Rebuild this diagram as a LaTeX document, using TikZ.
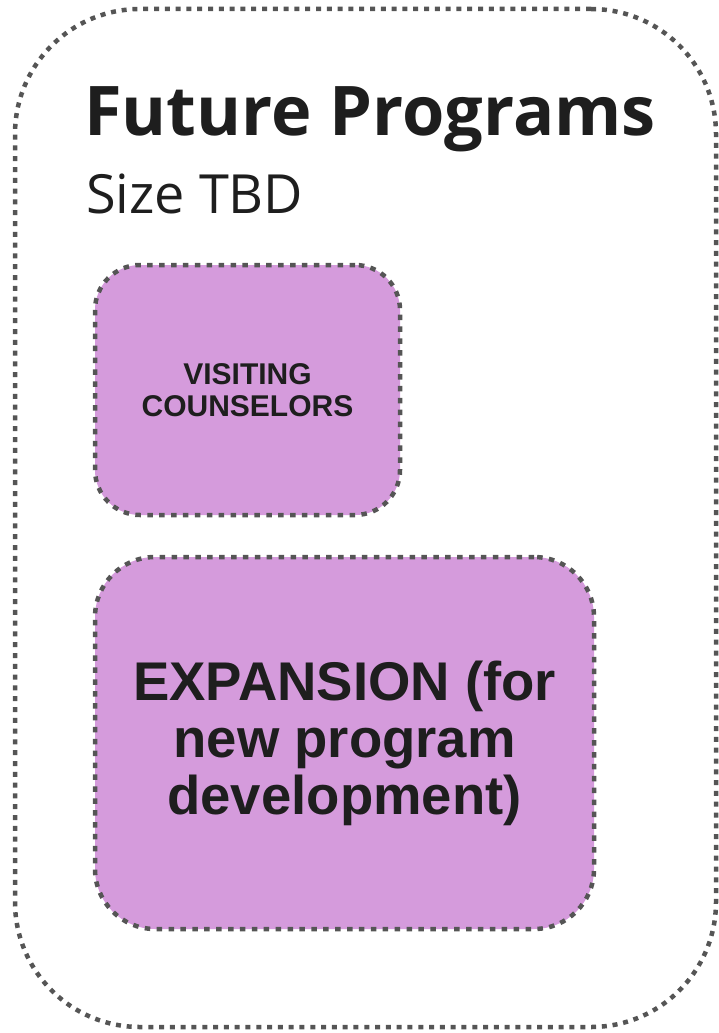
\documentclass[tikz,border=0pt]{standalone}
\usepackage{fontspec}
\newfontfamily\headfont{Open Sans}
\newfontfamily\labelfont{Liberation Sans}
\usepackage{tikz}
\definecolor{progfill}{HTML}{D59BDC}
\definecolor{dotgray}{HTML}{555555}
\definecolor{inkblack}{HTML}{1E1E1E}

\begin{document}
\begin{tikzpicture}[x=1pt, y=-1pt,
    frame/.style={draw=dotgray, line width=4.5pt, dash pattern=on 5pt off 5.8pt,
                  rounded corners=125pt, inner sep=0pt, outer sep=0pt},
    progbox/.style={draw=dotgray, fill=progfill, line width=4.5pt, dash pattern=on 5.5pt off 6.4pt,
                    inner sep=0pt, outer sep=0pt, align=center, text=inkblack},
    heading/.style={anchor=base west, inner sep=0pt, text=inkblack}]
  \useasboundingbox (0,0) rectangle (719,1033);
  % outer dotted frame
  \node[frame, minimum width=701pt, minimum height=1018pt] (future) at (365.5,518) {};
  \node[heading, font=\headfont\bfseries\fontsize{68.5}{82}\selectfont] (title) at (84,135) {Future Programs};
  \node[heading, font=\headfont\fontsize{54}{64}\selectfont] (size) at (86,213) {Size TBD};
  % program boxes
  \node[progbox, rounded corners=45pt, minimum width=305pt, minimum height=250pt,
        font=\labelfont\bfseries\fontsize{30}{32.5}\selectfont] (visiting) at (247.5,390)
        {VISITING\\COUNSELORS};
  \node[progbox, rounded corners=60pt, minimum width=499pt, minimum height=372pt,
        font=\labelfont\bfseries\fontsize{54.5}{57}\selectfont] (expansion) at (344.5,743)
        {EXPANSION (for\\new program\\development)};
\end{tikzpicture}
\end{document}
